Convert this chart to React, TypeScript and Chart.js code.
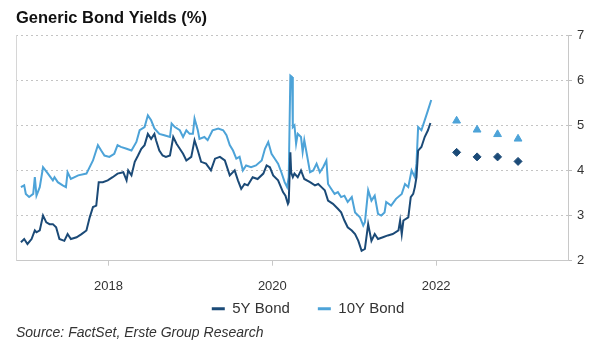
import React, { useEffect, useRef } from "react";
import { Chart, registerables } from "chart.js";

Chart.register(...registerables);

// ---- Data (decimal years on x, yield in % on y) ----
const bond5Years = [
  2016.93, 2016.97, 2017.01, 2017.06, 2017.1, 2017.12, 2017.16, 2017.2, 2017.24, 2017.28,
  2017.32, 2017.36, 2017.4, 2017.46, 2017.5, 2017.54, 2017.61, 2017.67, 2017.73, 2017.77,
  2017.81, 2017.85, 2017.88, 2017.93, 2017.99, 2018.05, 2018.11, 2018.18, 2018.22, 2018.24,
  2018.28, 2018.32, 2018.36, 2018.4, 2018.44, 2018.48, 2018.52, 2018.56, 2018.58, 2018.62,
  2018.66, 2018.7, 2018.75, 2018.79, 2018.83, 2018.87, 2018.91, 2018.95, 2019.01, 2019.05,
  2019.09, 2019.13, 2019.19, 2019.25, 2019.3, 2019.36, 2019.42, 2019.48, 2019.54, 2019.58,
  2019.62, 2019.66, 2019.7, 2019.76, 2019.82, 2019.89, 2019.93, 2019.97, 2020.01, 2020.07,
  2020.13, 2020.16, 2020.19, 2020.2, 2020.22, 2020.23, 2020.25, 2020.27, 2020.31, 2020.35,
  2020.39, 2020.46, 2020.52, 2020.56, 2020.6, 2020.64, 2020.68, 2020.74, 2020.8, 2020.84,
  2020.88, 2020.92, 2020.97, 2021.01, 2021.05, 2021.09, 2021.13, 2021.17, 2021.21, 2021.25,
  2021.29, 2021.35, 2021.41, 2021.47, 2021.54, 2021.56, 2021.58, 2021.6, 2021.66, 2021.69,
  2021.72, 2021.74, 2021.76, 2021.78, 2021.82, 2021.86, 2021.9, 2021.93,
];
const bond5Values = [
  2.41, 2.48, 2.37, 2.48, 2.67, 2.63, 2.67, 3.0, 2.85, 2.81,
  2.81, 2.74, 2.48, 2.44, 2.59, 2.48, 2.52, 2.59, 2.67, 2.96,
  3.19, 3.22, 3.74, 3.74, 3.78, 3.85, 3.93, 3.96, 3.78, 4.0,
  3.89, 4.19, 4.33, 4.48, 4.56, 4.81, 4.7, 4.81, 4.67, 4.44,
  4.33, 4.3, 4.33, 4.74, 4.59, 4.48, 4.37, 4.22, 4.3, 4.67,
  4.44, 4.19, 4.15, 4.0, 4.26, 4.3, 4.22, 3.89, 4.0, 3.78,
  3.59, 3.7, 3.67, 3.85, 3.81, 3.93, 4.11, 4.07, 3.89, 3.78,
  3.52, 3.44, 3.26, 3.3, 4.4, 3.95, 3.85, 3.93, 3.85, 4.0,
  3.81, 3.74, 3.67, 3.7, 3.63, 3.56, 3.33, 3.26, 3.15, 3.07,
  2.89, 2.74, 2.67, 2.59, 2.44, 2.22, 2.26, 2.81, 2.44, 2.59,
  2.48, 2.52, 2.56, 2.59, 2.67, 2.89, 2.59, 2.89, 2.96, 3.41,
  3.48, 3.63, 3.85, 4.44, 4.52, 4.74, 4.89, 5.05,
];

const bond10Years = [
  2016.93, 2016.97, 2016.99, 2017.03, 2017.08, 2017.1, 2017.12, 2017.16, 2017.2, 2017.26,
  2017.32, 2017.34, 2017.38, 2017.44, 2017.48, 2017.5, 2017.54, 2017.63, 2017.73, 2017.81,
  2017.87, 2017.91, 2017.95, 2018.01, 2018.07, 2018.11, 2018.15, 2018.22, 2018.28, 2018.34,
  2018.38, 2018.44, 2018.48, 2018.52, 2018.56, 2018.62, 2018.68, 2018.75, 2018.77, 2018.81,
  2018.87, 2018.91, 2018.95, 2018.99, 2019.03, 2019.05, 2019.09, 2019.11, 2019.17, 2019.21,
  2019.27, 2019.34, 2019.4, 2019.44, 2019.48, 2019.52, 2019.56, 2019.6, 2019.64, 2019.68,
  2019.74, 2019.8, 2019.87, 2019.91, 2019.95, 2019.99, 2020.03, 2020.07, 2020.11, 2020.15,
  2020.18, 2020.2, 2020.22, 2020.24, 2020.25, 2020.27, 2020.29, 2020.31, 2020.35, 2020.37,
  2020.39, 2020.42, 2020.46, 2020.5, 2020.54, 2020.58, 2020.62, 2020.66, 2020.68, 2020.72,
  2020.76, 2020.8, 2020.84, 2020.88, 2020.92, 2020.97, 2021.01, 2021.07, 2021.11, 2021.13,
  2021.17, 2021.21, 2021.25, 2021.29, 2021.33, 2021.37, 2021.39, 2021.45, 2021.51, 2021.58,
  2021.62, 2021.66, 2021.7, 2021.74, 2021.76, 2021.78, 2021.82, 2021.86, 2021.9, 2021.94,
];
const bond10Values = [
  3.63, 3.67, 3.48, 3.41, 3.48, 3.85, 3.44, 3.63, 4.07, 3.93,
  3.78, 3.85, 3.74, 3.67, 3.63, 3.96, 3.81, 3.89, 3.93, 4.22,
  4.56, 4.44, 4.33, 4.3, 4.37, 4.56, 4.52, 4.48, 4.44, 4.63,
  4.89, 4.96, 5.22, 5.11, 4.93, 4.81, 4.78, 4.74, 5.04, 4.96,
  4.89, 4.74, 4.89, 4.81, 4.81, 5.15, 4.89, 4.7, 4.74, 4.67,
  4.89, 4.93, 4.89, 4.78, 4.56, 4.44, 4.26, 4.3, 4.0, 4.11,
  4.07, 4.11, 4.22, 4.48, 4.63, 4.37, 4.26, 4.15, 3.96, 3.74,
  3.63, 3.85, 6.1, 6.07, 4.96, 5.0, 4.59, 4.81, 4.74, 4.41,
  4.67, 4.37, 3.96, 4.0, 4.15, 3.96, 4.07, 4.22, 3.7, 3.59,
  3.48, 3.52, 3.41, 3.44, 3.3, 3.41, 3.07, 2.96, 2.78, 2.85,
  3.56, 3.33, 3.44, 3.04, 3.0, 3.07, 3.3, 3.22, 3.37, 3.48,
  3.7, 3.63, 4.0, 3.85, 4.15, 4.96, 4.89, 5.11, 5.33, 5.56,
];

const forecastYears = [2022.25, 2022.5, 2022.75, 2023.0];
const forecast5 = [4.4, 4.3, 4.3, 4.2];
const forecast10 = [5.1, 4.9, 4.8, 4.7];

const xTickYears = [2018, 2020, 2022];
const xMin = 2016.87;
const xMax = 2023.61;
const yMin = 2;
const yMax = 7;

const seriesNames = ["5Y Bond", "10Y Bond"];
const DARK = "#1b4a77";
const LIGHT = "#4da3d8";
const FONT = "'Liberation Sans', Arial, Helvetica, sans-serif";

const toPoints = (xs: number[], ys: number[]) => xs.map((x, i) => ({ x, y: ys[i] }));

const leftBorder = {
  id: "leftBorder",
  afterDraw(chart: any) {
    const { ctx, chartArea } = chart;
    ctx.save();
    ctx.strokeStyle = "#d6d6d6";
    ctx.lineWidth = 1;
    ctx.beginPath();
    ctx.moveTo(chartArea.left + 0.5, chartArea.top);
    ctx.lineTo(chartArea.left + 0.5, chartArea.bottom);
    ctx.stroke();
    ctx.restore();
  },
};

// Legend items use a wide gap (= padding); pull the legend box top up so the row sits under the axis labels.
const legendLift = {
  id: "legendLift",
  afterLayout(chart: any) {
    const lg = chart.legend;
    if (!lg) return;
    lg.top -= 21.5;
  },
};

export default function App() {
  const ref = useRef<HTMLCanvasElement | null>(null);

  useEffect(() => {
    if (!ref.current) return;
    Chart.defaults.font.family = FONT;
    const chart = new Chart(ref.current, {
      type: "line",
      data: {
        datasets: [
          {
            label: seriesNames[0],
            data: toPoints(bond5Years, bond5Values),
            borderColor: DARK,
            backgroundColor: DARK,
            borderWidth: 2,
            pointRadius: 0,
            tension: 0,
          },
          {
            label: seriesNames[1],
            data: toPoints(bond10Years, bond10Values),
            borderColor: LIGHT,
            backgroundColor: LIGHT,
            borderWidth: 2,
            pointRadius: 0,
            tension: 0,
          },
          {
            label: "5Y forecast",
            data: toPoints(forecastYears, forecast5),
            showLine: false,
            pointStyle: "rectRot",
            pointRadius: 4,
            pointBackgroundColor: DARK,
            pointBorderColor: DARK,
            borderColor: DARK,
            backgroundColor: DARK,
          },
          {
            label: "10Y forecast",
            data: toPoints(forecastYears, forecast10),
            showLine: false,
            pointStyle: "triangle",
            pointRadius: 4.5,
            pointBackgroundColor: LIGHT,
            pointBorderColor: LIGHT,
            borderColor: LIGHT,
            backgroundColor: LIGHT,
          },
        ],
      },
      options: {
        animation: false,
        responsive: false,
        devicePixelRatio: 1,
        layout: { padding: { left: 16, right: 0, top: 0, bottom: 0 } },
        scales: {
          x: {
            type: "linear",
            min: xMin,
            max: xMax,
            afterBuildTicks: (scale: any) => {
              scale.ticks = xTickYears.map((v) => ({ value: v }));
            },
            afterFit: (scale: any) => {
              scale.height = 34;
            },
            ticks: {
              callback: (v: any) => String(v),
              color: "#333",
              font: { size: 13 },
              padding: 12.5,
              maxRotation: 0,
              autoSkip: false,
            },
            grid: {
              drawOnChartArea: false,
              drawTicks: true,
              tickLength: 5,
              color: "#c8c8c8",
            },
            border: { display: true, color: "#c8c8c8" },
          },
          y: {
            type: "linear",
            position: "right",
            min: yMin,
            max: yMax,
            afterFit: (scale: any) => {
              scale.width = 32;
            },
            ticks: {
              stepSize: 1,
              color: "#333",
              font: { size: 13 },
              padding: 5,
            },
            grid: {
              color: "#c4c4c4",
              tickLength: 4,
              tickColor: "#bdbdbd",
              drawTicks: true,
            },
            border: { display: true, color: "#c8c8c8", dash: [2, 3] },
          },
        },
        plugins: {
          title: {
            display: true,
            text: "Generic Bond Yields (%)",
            align: "start",
            color: "#111",
            font: { size: 16.5, weight: "bold", lineHeight: 1.2 },
            padding: { top: 9, bottom: 6.2 },
          },
          subtitle: {
            display: true,
            text: "Source: FactSet, Erste Group Research",
            position: "bottom",
            align: "start",
            color: "#333",
            font: { size: 14, style: "italic", lineHeight: 1.0 },
            padding: { top: 0, bottom: 11.8 },
          },
          legend: {
            display: true,
            position: "bottom",
            maxHeight: 31.5,
            labels: {
              color: "#333",
              font: { size: 15 },
              boxWidth: 13,
              boxHeight: 3,
              padding: 28,
              filter: (item: any) => item.datasetIndex < 2,
              generateLabels: (c: any) =>
                (Chart.defaults.plugins.legend.labels as any)
                  .generateLabels(c)
                  .map((l: any) => ({ ...l, lineWidth: 0 })),
            },
          },
          tooltip: { enabled: false },
        },
      },
      plugins: [leftBorder, legendLift],
    } as any);
    return () => chart.destroy();
  }, []);

  return (
    <div
      style={{
        position: "fixed",
        left: 0,
        top: 0,
        width: 600,
        height: 352,
        background: "#fff",
      }}
    >
      <canvas ref={ref} width={600} height={352} style={{ width: 600, height: 352, display: "block" }} />
    </div>
  );
}
